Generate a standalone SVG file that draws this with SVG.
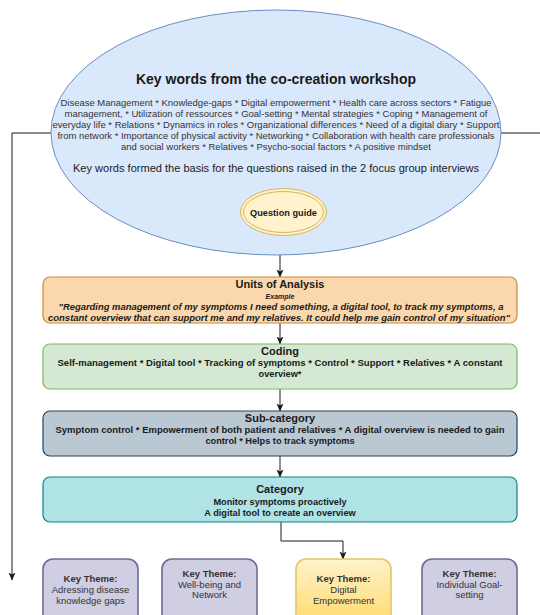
<svg xmlns="http://www.w3.org/2000/svg" width="540" height="615" viewBox="0 0 540 615">
<defs>
<style>
text{font-family:"Liberation Sans",Arial,sans-serif;text-anchor:middle;fill:#1a1a1a}
.b{font-weight:bold}
.kw{font-size:9px;fill:#333}
.t{font-size:11px;font-weight:bold}
.s{font-size:8.5px;font-weight:bold}
.s2{font-size:9.2px;font-weight:bold}
.q{font-size:8.5px;font-weight:bold;font-style:italic}
.kt{font-size:9.5px;fill:#333}
.conn{fill:none;stroke:#1a1a1a;stroke-width:1}
.box{stroke-width:1.2}
.theme{fill:#d0cee2;stroke:#6f6a9a;stroke-width:1.6}
</style>
<marker id="arr" viewBox="0 0 8 8" refX="7.5" refY="4" markerWidth="8" markerHeight="8" markerUnits="userSpaceOnUse" orient="auto">
<path d="M0,0.5 L8,4 L0,7.5 L2,4 z" fill="#1a1a1a"/>
</marker>
<linearGradient id="yg" x1="0" y1="0" x2="0" y2="1">
<stop offset="0" stop-color="#fff2cc"/>
<stop offset="1" stop-color="#ffd966"/>
</linearGradient>
</defs>
<rect width="540" height="615" fill="#ffffff"/>

<g id="connectors">
<path class="conn" d="M51,133 H12 V580" marker-end="url(#arr)"/>
<path class="conn" d="M501,133 H540"/>
<path class="conn" d="M280,255 V277" marker-end="url(#arr)"/>
<path class="conn" d="M280,323 V344" marker-end="url(#arr)"/>
<path class="conn" d="M280,389 V411" marker-end="url(#arr)"/>
<path class="conn" d="M280,456 V477" marker-end="url(#arr)"/>
<path class="conn" d="M281,522 V541 H343 V559" marker-end="url(#arr)"/>
</g>

<g id="keywords">
<ellipse cx="276" cy="132.5" rx="225" ry="122.5" fill="#dae8fc" stroke="#6c8ebf" stroke-width="1"/>
<text x="276" y="84" class="b" font-size="14">Key words from the co-creation workshop</text>
<text class="kw" x="276" y="106.3" textLength="431" lengthAdjust="spacingAndGlyphs">Disease Management * Knowledge-gaps * Digital empowerment * Health care across sectors * Fatigue</text>
<text class="kw" x="276" y="117.1" textLength="423" lengthAdjust="spacingAndGlyphs">management, * Utilization of ressources * Goal-setting * Mental strategies * Coping * Management of</text>
<text class="kw" x="276" y="127.9" textLength="447" lengthAdjust="spacingAndGlyphs">everyday life * Relations * Dynamics in roles * Organizational differences * Need of a digital diary * Support</text>
<text class="kw" x="276" y="138.7" textLength="437" lengthAdjust="spacingAndGlyphs">from network * Importance of physical activity * Networking * Collaboration with health care professionals</text>
<text class="kw" x="276" y="149.5" textLength="310" lengthAdjust="spacingAndGlyphs">and social workers * Relatives * Psycho-social factors * A positive mindset</text>
<text x="276" y="172" font-size="10.5" fill="#222" textLength="406" lengthAdjust="spacingAndGlyphs">Key words formed the basis for the questions raised in the 2 focus group interviews</text>
</g>

<g id="question-guide">
<ellipse cx="283.5" cy="212" rx="43" ry="23.5" fill="#fff2cc" stroke="#d6b656" stroke-width="1"/>
<ellipse cx="283.5" cy="212" rx="40" ry="20.5" fill="#fff2cc" stroke="#d6b656" stroke-width="1"/>
<text x="283.5" y="215.5" class="b" font-size="9.2">Question guide</text>
</g>

<g id="units">
<rect class="box" x="43" y="277" width="474" height="46" rx="7" fill="#fad7ac" stroke="#c98a3b"/>
<text x="280" y="288" class="t">Units of Analysis</text>
<text x="280" y="298.5" font-size="7" font-weight="bold" font-style="italic" fill="#333">Example</text>
<text x="281" y="310" class="q" textLength="445" lengthAdjust="spacingAndGlyphs">"Regarding management of my symptoms I need something, a digital tool, to track my symptoms, a</text>
<text x="279" y="320.5" class="q" textLength="462" lengthAdjust="spacingAndGlyphs">constant overview that can support me and my relatives. It could help me gain control of my situation"</text>
</g>

<g id="coding">
<rect class="box" x="43" y="344" width="474" height="45" rx="7" fill="#d5e8d4" stroke="#82b366"/>
<text x="280" y="355" class="t">Coding</text>
<text x="280" y="366" class="s" textLength="445" lengthAdjust="spacingAndGlyphs">Self-management * Digital tool *  Tracking of symptoms * Control * Support * Relatives * A constant</text>
<text x="280" y="376.5" class="s2">overview*</text>
</g>

<g id="subcategory">
<rect class="box" x="43" y="411" width="474" height="45" rx="7" fill="#bac8d3" stroke="#23445d"/>
<text x="280" y="422" class="t">Sub-category</text>
<text x="280" y="432.5" class="s" textLength="449" lengthAdjust="spacingAndGlyphs">Symptom control * Empowerment of both patient and relatives * A digital overview is needed to gain</text>
<text x="280" y="443.5" class="s2">control * Helps to track symptoms</text>
</g>

<g id="category">
<rect class="box" x="43" y="477" width="474" height="45" rx="7" fill="#b0e3e6" stroke="#0e8088"/>
<text x="280" y="493" class="t">Category</text>
<text x="280" y="504.5" class="s2">Monitor symptoms proactively</text>
<text x="280" y="515.5" class="s2">A digital tool to create an overview</text>
</g>

<g id="theme-knowledge">
<rect class="theme" x="43" y="559" width="95" height="70" rx="10"/>
<text x="90.5" y="581.5" class="kt b">Key Theme:</text>
<text x="90.5" y="592.5" class="kt">Adressing disease</text>
<text x="90.5" y="603.5" class="kt">knowledge gaps</text>
</g>

<g id="theme-wellbeing">
<rect class="theme" x="162" y="559" width="95" height="70" rx="10"/>
<text x="209.5" y="576.5" class="kt b">Key Theme:</text>
<text x="209.5" y="587.5" class="kt">Well-being and</text>
<text x="209.5" y="598" class="kt">Network</text>
</g>

<g id="theme-digital">
<rect x="296" y="559" width="95" height="70" rx="10" fill="url(#yg)" stroke="#e3c66a" stroke-width="1.6"/>
<text x="343.5" y="581.5" class="kt b">Key Theme:</text>
<text x="343.5" y="592.5" class="kt">Digital</text>
<text x="343.5" y="603.5" class="kt">Empowerment</text>
</g>

<g id="theme-goal">
<rect class="theme" x="422" y="559" width="95" height="70" rx="10"/>
<text x="469.5" y="576.5" class="kt b">Key Theme:</text>
<text x="469.5" y="587.5" class="kt">Individual Goal-</text>
<text x="469.5" y="598" class="kt">setting</text>
</g>
</svg>
